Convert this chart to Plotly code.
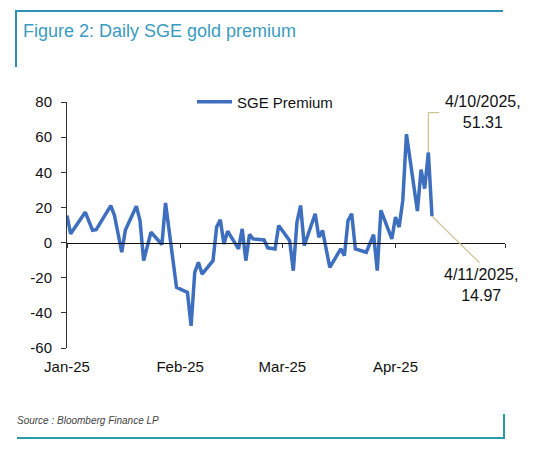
import plotly.graph_objects as go

# ---- data ----
dates = [
    "2025-01-01", "2025-01-02", "2025-01-06", "2025-01-08", "2025-01-09",
    "2025-01-13", "2025-01-14", "2025-01-16", "2025-01-17", "2025-01-20",
    "2025-01-21", "2025-01-22", "2025-01-24", "2025-01-27", "2025-01-28",
    "2025-01-31", "2025-02-03", "2025-02-04", "2025-02-05", "2025-02-06",
    "2025-02-07", "2025-02-10", "2025-02-11", "2025-02-12", "2025-02-13",
    "2025-02-14", "2025-02-17", "2025-02-18", "2025-02-19", "2025-02-20",
    "2025-02-21", "2025-02-24", "2025-02-25", "2025-02-27", "2025-02-28",
    "2025-03-03", "2025-03-04", "2025-03-05", "2025-03-06", "2025-03-07",
    "2025-03-10", "2025-03-11", "2025-03-12", "2025-03-14", "2025-03-17",
    "2025-03-18", "2025-03-19", "2025-03-20", "2025-03-21", "2025-03-24",
    "2025-03-26", "2025-03-27", "2025-03-28", "2025-03-31", "2025-04-01",
    "2025-04-02", "2025-04-03", "2025-04-04", "2025-04-07", "2025-04-08",
    "2025-04-09", "2025-04-10", "2025-04-11",
]
premium = [
    15.4, 5.0, 17.3, 7.0, 7.3,
    21.0, 15.4, -5.5, 7.2, 20.7,
    12.6, -10.3, 5.9, -1.1, 22.6,
    -25.5, -28.4, -47.4, -17.0, -11.2,
    -17.9, -10.3, 8.8, 13.0, -0.8,
    6.5, -3.6, 7.8, -10.3, 4.6,
    2.1, 1.5, -3.0, -3.6, 9.7,
    1.1, -16.0, 11.6, 21.1, -1.7,
    16.4, 3.0, 6.9, -14.1, -3.6,
    -7.4, 12.6, 16.4, -3.6, -5.5,
    4.5, -16.0, 18.3, 2.1, 14.5,
    8.8, 24.0, 61.7, 17.9, 41.5,
    30.7, 51.31, 14.97,
]
series_name = "SGE Premium"
month_ticks = ["2025-01-01", "2025-02-01", "2025-03-01", "2025-04-01"]
month_labels = ["Jan-25", "Feb-25", "Mar-25", "Apr-25"]
axis_ticks = ["2025-01-01", "2025-02-01", "2025-03-01", "2025-04-01", "2025-05-01"]
y_ticks = [-60, -40, -20, 0, 20, 40, 60, 80]
y_labels = [str(v) for v in y_ticks]

title_text = "Figure 2: Daily SGE gold premium"
source_text = "Source : Bloomberg Finance LP"

FONT = "Liberation Sans, Arial, sans-serif"
LINE_BLUE = "#3d6fbe"
TEAL_TOP = "#2f90b6"
TEAL_BOT = "#2a9aa9"
LEADER = "#c9c595"

OFF = 8  # page body margin offset in the screenshot
W, H = 548, 450
L, T = 67 - OFF, 102 - OFF
PW, PH = 438, 246
R, B = W - L - PW, H - T - PH

def px(xp, yp):
    """screen pixel -> paper (plot-area) fraction"""
    return (xp - OFF - L) / PW, (T + PH - (yp - OFF)) / PH

fig = go.Figure()
fig.add_trace(go.Scatter(
    x=dates, y=premium, mode="lines", name=series_name,
    line=dict(color=LINE_BLUE, width=3.5),
))
# invisible helper trace so the zero-line tick axis is drawn
fig.add_trace(go.Scatter(
    x=dates, y=premium, mode="lines", xaxis="x2", showlegend=False,
    line=dict(color="rgba(0,0,0,0)", width=0), hoverinfo="skip",
))

zero_frac = (0 - y_ticks[0]) / (y_ticks[-1] - y_ticks[0])

lx, ly = px(192, 102)
fig.update_layout(
    width=W, height=H,
    margin=dict(l=L, r=R, t=T, b=B, autoexpand=False),
    paper_bgcolor="white", plot_bgcolor="white",
    font=dict(family=FONT, size=15, color="#111"),
    showlegend=True,
    legend=dict(x=lx, y=ly, xanchor="left", yanchor="middle",
                bgcolor="rgba(0,0,0,0)", font=dict(size=15, color="#111"),
                itemwidth=35),
    xaxis=dict(
        type="date", range=[axis_ticks[0], axis_ticks[-1]],
        tickvals=month_ticks, ticktext=month_labels, automargin=False,
        showgrid=False, showline=False, ticks="", zeroline=False,
        ticklabelstandoff=8, tickfont=dict(size=15, color="#111"),
    ),
    xaxis2=dict(
        type="date", range=[axis_ticks[0], axis_ticks[-1]], overlaying="x",
        anchor="free", position=zero_frac, side="bottom", automargin=False,
        tickvals=axis_ticks, showticklabels=False, ticks="outside",
        ticklen=4, tickcolor="#333", tickwidth=1,
        showline=True, linecolor="#111", linewidth=1.3,
        showgrid=False, zeroline=False,
    ),
    yaxis=dict(
        range=[y_ticks[0], y_ticks[-1]], tickvals=y_ticks, ticktext=y_labels,
        showgrid=False, zeroline=False, showline=True, automargin=False,
        linecolor="#333", linewidth=1, ticks="outside", ticklen=5,
        tickcolor="#333", ticklabelstandoff=6,
        tickfont=dict(size=15, color="#111"),
    ),
)

# annotations
fig.add_annotation(x=dates[-2], y=premium[-2], xref="x", yref="y",
                   text=f"4/10/2025,<br>{premium[-2]:.2f}", showarrow=False,
                   xshift=55, yshift=40, font=dict(size=16, color="#111"),
                   align="center")
fig.add_annotation(x=dates[-1], y=premium[-1], xref="x", yref="y",
                   text=f"4/11/2025,<br>{premium[-1]:.2f}", showarrow=False,
                   xshift=49, yshift=-69, font=dict(size=16, color="#111"),
                   align="center")
# leader lines (annotation decorations)
fig.add_shape(type="path", xref="x", yref="y",
              path=f"M {dates[-2]} {premium[-2]} L {dates[-2]} 74 L 2025-04-13 74",
              line=dict(color=LEADER, width=1.2))
fig.add_shape(type="line", xref="x", yref="y",
              x0=dates[-1], y0=premium[-1], x1="2025-04-24", y1=-11.5,
              line=dict(color=LEADER, width=1.2))

# title & source
tx, ty = px(21, 31)
fig.add_annotation(x=tx, y=ty, xref="paper", yref="paper",
                   text=title_text, showarrow=False, xanchor="left", yanchor="middle",
                   font=dict(size=18, color="#3a9bc0", family=FONT))
sx, sy = px(15, 420)
fig.add_annotation(x=sx, y=sy, xref="paper", yref="paper",
                   text=f"<i>{source_text}</i>", showarrow=False, xanchor="left",
                   yanchor="middle", font=dict(size=10, color="#444", family=FONT))

# frame lines
def frame(xa, ya, xb, yb, color):
    x0, y0 = px(xa, ya)
    x1, y1 = px(xb, yb)
    fig.add_shape(type="line", xref="paper", yref="paper", x0=x0, y0=y0,
                  x1=x1, y1=y1, line=dict(color=color, width=2))

frame(15, 11, 503, 11, TEAL_TOP)
frame(16, 10, 16, 67, TEAL_TOP)
frame(17, 438, 504, 438, TEAL_BOT)
frame(504, 414, 504, 439, TEAL_BOT)

fig.write_html("out.html")
